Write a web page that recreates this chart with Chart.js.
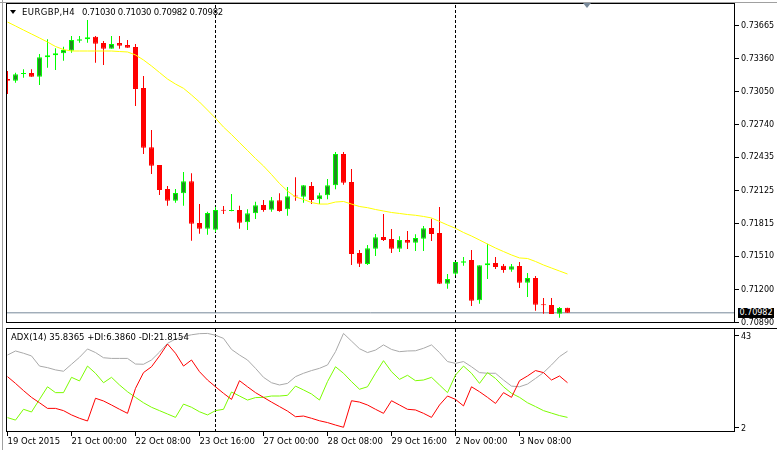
<!DOCTYPE html>
<html><head><meta charset="utf-8">
<script src="https://cdn.jsdelivr.net/npm/chart.js@4.4.1/dist/chart.umd.min.js"></script>
<style>
html,body{margin:0;padding:0;background:#fff;}
#wrap{position:relative;width:777px;height:450px;overflow:hidden;font-family:"DejaVu Sans",sans-serif;}
canvas{position:absolute;left:0;}
#c1{top:0;}
#c2{top:320px;}
.t{position:absolute;font-size:8.5px;line-height:10px;color:#000;white-space:nowrap;}
.ln{position:absolute;}
</style></head><body>
<div id="wrap">
<canvas id="c1" width="777" height="336"></canvas>
<canvas id="c2" width="777" height="130"></canvas>
<div class="ln" style="left:2px;top:0;width:1px;height:450px;background:#a0a0a0"></div>
<div class="ln" style="left:0;top:2px;width:777px;height:1px;background:#a0a0a0"></div>
<div class="ln" style="left:735px;top:328px;width:42px;height:1px;background:#000"></div>
<div style="position:absolute;left:10px;top:10px;width:0;height:0;border-left:3px solid transparent;border-right:3px solid transparent;border-top:4px solid #000"></div>
<div style="position:absolute;left:583px;top:3px;width:0;height:0;border-left:4px solid transparent;border-right:4px solid transparent;border-top:5px solid #778899"></div>
<div class="t" id="ttl1" style="left:22px;top:7px;letter-spacing:0.4px">EURGBP,H4</div>
<div class="t" id="ttl2" style="left:82px;top:7px;letter-spacing:-0.25px">0.71030 0.71030 0.70982 0.70982</div>
<div class="t" id="adxl" style="left:11px;top:332px">ADX(14) 35.8365 +DI:6.3860 -DI:21.8154</div>
<div class="t" id="bidbox" style="left:738px;top:308px;width:36px;height:10px;background:#000;color:#fff;text-align:center;font-size:8px">0.70982</div>
</div>
<script>
// ---------- data ----------
const opens  = [0.73168,0.73152,0.73215,0.73224,0.73190,0.73371,0.73390,0.73408,0.73433,0.73526,0.73539,0.73564,0.73505,0.73451,0.73505,0.73486,0.73467,0.73084,0.72530,0.72364,0.72140,0.72030,0.72099,0.72212,0.71822,0.71768,0.71759,0.71943,0.71934,0.71943,0.71828,0.71912,0.71990,0.71946,0.72034,0.71950,0.72074,0.72068,0.72168,0.72043,0.72081,0.72174,0.72467,0.72205,0.71541,0.71438,0.71581,0.71691,0.71672,0.71581,0.71663,0.71638,0.71675,0.71775,0.71728,0.71254,0.71348,0.71451,0.71476,0.71099,0.71426,0.71448,0.71423,0.71385,0.71420,0.71264,0.71308,0.71062,0.71055,0.70974,0.71030];
const highs  = [0.73243,0.73227,0.73259,0.73259,0.73402,0.73539,0.73455,0.73470,0.73570,0.73570,0.73720,0.73570,0.73523,0.73570,0.73570,0.73533,0.73495,0.73196,0.72691,0.72364,0.72168,0.72140,0.72299,0.72286,0.71999,0.71927,0.71971,0.71981,0.72093,0.71984,0.71950,0.72021,0.72037,0.72065,0.72099,0.72158,0.72249,0.72177,0.72205,0.72105,0.72233,0.72486,0.72486,0.72327,0.71569,0.71616,0.71719,0.71906,0.71766,0.71697,0.71747,0.71716,0.71794,0.71862,0.71971,0.71345,0.71457,0.71504,0.71569,0.71426,0.71628,0.71504,0.71438,0.71438,0.71457,0.71354,0.71326,0.71121,0.71121,0.71036,0.71030];
const lows   = [0.73028,0.73134,0.73180,0.73190,0.73112,0.73274,0.73252,0.73339,0.73414,0.73508,0.73508,0.73321,0.73299,0.73451,0.73451,0.73461,0.72916,0.72467,0.72280,0.72084,0.71984,0.72012,0.71984,0.71656,0.71722,0.71712,0.71738,0.71906,0.71931,0.71768,0.71756,0.71859,0.71927,0.71927,0.71927,0.71890,0.72030,0.72012,0.71999,0.71999,0.72043,0.72137,0.72180,0.71429,0.71410,0.71429,0.71513,0.71653,0.71541,0.71551,0.71579,0.71560,0.71560,0.71653,0.71251,0.71207,0.71333,0.71423,0.71046,0.71067,0.71298,0.71392,0.71357,0.71366,0.71214,0.71130,0.71002,0.70974,0.70970,0.70936,0.70982];
const closes = [0.73152,0.73212,0.73224,0.73190,0.73371,0.73390,0.73408,0.73439,0.73533,0.73539,0.73558,0.73498,0.73451,0.73495,0.73480,0.73461,0.73075,0.72526,0.72358,0.72130,0.72030,0.72102,0.72212,0.71815,0.71768,0.71915,0.71943,0.71937,0.71941,0.71825,0.71912,0.71987,0.71943,0.72034,0.71934,0.72071,0.72070,0.72174,0.72037,0.72081,0.72174,0.72467,0.72199,0.71532,0.71441,0.71585,0.71688,0.71663,0.71581,0.71663,0.71638,0.71682,0.71772,0.71719,0.71254,0.71298,0.71457,0.71464,0.71095,0.71426,0.71445,0.71410,0.71382,0.71417,0.71264,0.71308,0.71058,0.71052,0.70970,0.71027,0.70982];
const maValues = [0.73701,0.73664,0.73626,0.73589,0.73552,0.73514,0.73472,0.73444,0.73430,0.73430,0.73430,0.73430,0.73430,0.73430,0.73425,0.73421,0.73393,0.73346,0.73290,0.73229,0.73168,0.73121,0.73081,0.73019,0.72953,0.72878,0.72801,0.72719,0.72649,0.72574,0.72500,0.72425,0.72355,0.72275,0.72191,0.72121,0.72065,0.72042,0.72013,0.71999,0.71999,0.72018,0.72023,0.71999,0.71976,0.71965,0.71948,0.71934,0.71920,0.71911,0.71901,0.71894,0.71883,0.71869,0.71836,0.71803,0.71772,0.71733,0.71700,0.71663,0.71625,0.71588,0.71555,0.71523,0.71495,0.71490,0.71462,0.71429,0.71401,0.71373,0.71345];
const adx    = [34.1,35.9,34.9,33.7,29.2,28.5,27.5,26.9,30.0,33.1,36.8,35.2,32.9,32.6,32.6,32.6,30.1,30.0,31.9,35.4,39.3,41.2,42.3,43.1,43.6,43.7,42.9,41.5,36.6,34.1,31.9,28.2,24.2,21.8,20.8,21.5,24.5,26.0,27.2,28.2,29.7,35.6,43.7,40.3,36.9,35.2,36.3,38.6,36.6,35.6,35.9,36.0,37.1,38.6,35.2,31.2,30.4,31.2,28.9,26.3,26.0,26.0,23.0,20.3,20.0,21.2,23.7,26.3,29.7,33.4,35.8];
const plusDI = [6.3,5.2,10.0,8.8,14.4,20.0,17.4,17.4,24.2,22.6,29.2,26.0,21.8,24.2,20.8,17.8,15.3,12.9,10.9,9.4,7.9,6.4,12.3,10.9,8.9,7.5,9.4,10.0,17.7,15.9,14.1,15.2,15.3,15.9,15.9,16.2,20.3,18.6,16.8,14.1,22.3,28.9,26.0,22.3,18.9,20.0,26.0,31.6,26.7,23.3,25.1,22.7,23.0,24.2,20.8,17.4,25.2,29.2,26.0,21.5,26.3,23.7,20.0,17.1,15.3,12.9,11.2,9.4,8.3,7.2,6.4];
const minusDI= [24.5,21.5,18.3,15.3,12.9,10.4,10.4,9.4,7.5,6.0,4.8,14.9,13.7,11.9,10.0,8.2,19.3,26.3,28.9,33.7,39.0,34.9,29.2,31.9,26.7,23.0,20.0,17.1,14.4,22.7,20.0,17.4,15.3,13.2,11.2,9.2,6.7,7.0,6.0,4.9,4.1,3.0,2.0,13.8,13.2,11.9,10.0,8.2,13.8,11.9,10.0,9.7,8.2,6.4,11.9,15.9,14.4,11.5,20.0,17.8,15.3,12.6,17.4,15.3,22.7,24.8,27.2,26.3,23.0,24.8,21.8];
const priceTicks = [0.73665,0.73360,0.73050,0.72740,0.72435,0.72125,0.71815,0.71510,0.71200,0.70890];
const adxTicks = [43,2];
const timeLabels = ["19 Oct 2015","21 Oct 00:00","22 Oct 08:00","23 Oct 16:00","27 Oct 00:00","28 Oct 08:00","29 Oct 16:00","2 Nov 00:00","3 Nov 08:00"];
const timeLabelBars = [0,8,16,24,32,40,48,56,64];
const separatorBars = [26,56];
const bidPrice = 0.70982;

// ---------- layout constants ----------
const xMin = -0.1875, xMax = 90.9375;
const yMin = 0.708868, yMax = 0.738788;
const aMin = -0.09, aMax = 46.11;

Chart.defaults.font.family = "DejaVu Sans";
Chart.defaults.font.size = 8.5;
Chart.defaults.color = "#000";
Chart.defaults.animation = false;

const up = opens.map((o,i)=>closes[i] >= o);
const bodyFill = up.map(u => u ? "#228B22" : "#FF0000");
const bodyEdge = up.map(u => u ? "#00FF00" : "#FF0000");
const wickCol  = up.map(u => u ? "#00FF00" : "#FF0000");

const framePlugin = {
  id: "frame",
  afterDraw(chart) {
    const a = chart.chartArea, c = chart.ctx;
    c.save(); c.strokeStyle = "#000"; c.lineWidth = 1;
    c.strokeRect(a.left + 0.5, a.top + 0.5, a.right - a.left - 1, a.bottom - a.top - 1);
    c.restore();
  }
};

function sepSets(lo, hi, ord) {
  return separatorBars.map(b => ({
    type: "line", data: [{x:b, y:lo},{x:b, y:hi}], borderColor: "#000", borderWidth: 1,
    borderDash: [3,2], pointRadius: 0, order: ord
  }));
}

new Chart(document.getElementById("c1"), {
  data: { datasets: [
    { type:"line", data: maValues.map((v,i)=>({x:i,y:v})), borderColor:"#FFFF00", borderWidth:1, pointRadius:0, order:1 },
    { type:"bar", data: opens.map((o,i)=>({x:i,y:[o,closes[i]]})), backgroundColor: bodyFill, borderColor: bodyEdge,
      borderWidth:1, borderSkipped:false, barThickness:5, minBarLength:1, grouped:false, inflateAmount:0, order:2 },
    { type:"bar", data: lows.map((l,i)=>({x:i,y:[l,highs[i]]})), backgroundColor: wickCol, borderWidth:0,
      barThickness:1, grouped:false, inflateAmount:0, order:3 },
    { type:"line", data: [{x:xMin,y:bidPrice},{x:xMax,y:bidPrice}], borderColor:"#778899", borderWidth:1, pointRadius:0, order:4 },
    ...sepSets(yMin, yMax, 5)
  ]},
  options: {
    responsive:false, devicePixelRatio:1, animation:false,
    layout: { padding: { left:6, top:3, right:0, bottom:13 }, autoPadding:false },
    plugins: { legend:{display:false}, tooltip:{enabled:false} },
    scales: {
      x: { type:"linear", min:xMin, max:xMax, display:false, offset:false, grid:{offset:false} },
      y: { type:"linear", position:"right", min:yMin, max:yMax,
        afterBuildTicks: s => { s.ticks = priceTicks.map(v=>({value:v})); },
        afterFit: s => { s.width = 42; s.paddingTop = 0; s.paddingBottom = 0; },
        ticks: { callback: v => Number(v).toFixed(5), padding:2, autoSkip:false, font:{size:8} },
        grid: { drawOnChartArea:false, drawTicks:true, tickLength:4, color:"#000" },
        border: { display:false }
      }
    }
  },
  plugins: [framePlugin]
});

new Chart(document.getElementById("c2"), {
  data: { datasets: [
    { type:"line", data: minusDI.map((v,i)=>({x:i,y:v})), borderColor:"#FF0000", borderWidth:1, pointRadius:0, order:1 },
    { type:"line", data: plusDI.map((v,i)=>({x:i,y:v})), borderColor:"#7CFC00", borderWidth:1, pointRadius:0, order:2 },
    { type:"line", data: adx.map((v,i)=>({x:i,y:v})), borderColor:"#A9A9A9", borderWidth:1, pointRadius:0, order:3 },
    ...sepSets(aMin, aMax, 4)
  ]},
  options: {
    responsive:false, devicePixelRatio:1, animation:false,
    layout: { padding: { left:6, top:8, right:0, bottom:0 }, autoPadding:false },
    plugins: { legend:{display:false}, tooltip:{enabled:false} },
    scales: {
      x: { type:"linear", position:"bottom", min:xMin, max:xMax, offset:false,
        afterBuildTicks: s => { s.ticks = timeLabelBars.map(v=>({value:v})); },
        afterFit: s => { s.height = 18; s.paddingLeft = 0; s.paddingRight = 0; },
        ticks: { callback: (v, idx) => timeLabels[idx], align:"start", maxRotation:0, minRotation:0, autoSkip:false, padding:1, font:{size:8.5} },
        grid: { drawOnChartArea:false, drawTicks:true, tickLength:4, color:"#000", offset:false },
        border: { display:false }
      },
      y: { type:"linear", position:"right", min:aMin, max:aMax,
        afterBuildTicks: s => { s.ticks = adxTicks.map(v=>({value:v})); },
        afterFit: s => { s.width = 42; s.paddingTop = 0; s.paddingBottom = 0; },
        ticks: { callback: v => String(v), padding:2, autoSkip:false, labelOffset:2, font:{size:8} },
        grid: { drawOnChartArea:false, drawTicks:true, tickLength:4, color:"#000" },
        border: { display:false }
      }
    }
  },
  plugins: [framePlugin]
});
</script>
</body></html>
